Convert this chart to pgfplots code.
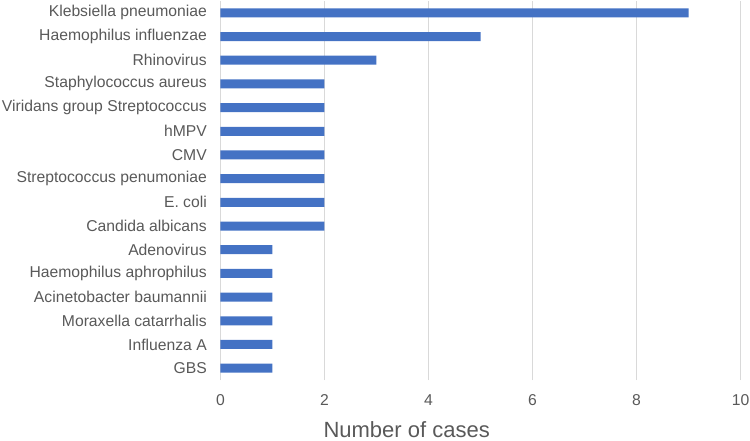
\documentclass[border=0pt]{standalone}
\usepackage{fontspec}
\setmainfont{Liberation Sans}
\usepackage{pgfplots}
\pgfplotsset{compat=1.18}
\definecolor{barblue}{HTML}{4472C4}
\definecolor{txtgray}{HTML}{595959}
\definecolor{gridgray}{HTML}{D9D9D9}
\begin{document}
\begin{tikzpicture}
\begin{axis}[
  scale only axis, width=520bp, height=379bp,
  at={(0,0)}, anchor=south west,
  xbar, bar width=9bp,
  xmin=0, xmax=10, ymin=-0.5, ymax=15.5,
  xtick={0,2,...,10}, ytick={0,...,15},
  yticklabels={GBS, Influenza A, Moraxella catarrhalis, Acinetobacter baumannii, Haemophilus aphrophilus, Adenovirus, Candida albicans, E. coli, Streptococcus penumoniae, CMV, hMPV, Viridans group Streptococcus, Staphylococcus aureus, Rhinovirus, Haemophilus influenzae, Klebsiella pneumoniae},
  axis line style={draw=none}, major tick length=0,
  xmajorgrids, ymajorgrids=false,
  grid style={gridgray, line width=0.9bp},
  ticklabel style={font=\fontsize{15.7bp}{18bp}\selectfont, text=txtgray},
  /pgf/number format/assume math mode=true,
  xticklabel style={anchor=center, yshift=-20bp},
  yticklabel style={anchor=east, inner sep=0pt, xshift=-13.5bp},
  xlabel={Number of cases},
  xlabel style={font=\fontsize{22bp}{24bp}\selectfont, text=txtgray, at={(axis description cs:0.358,0)}, anchor=center, yshift=-50bp},
]
\addplot[fill=barblue, draw=none] coordinates {
(1,0) (1,1) (1,2) (1,3) (1,4) (1,5) (2,6) (2,7) (2,8) (2,9) (2,10) (2,11) (2,12) (3,13) (5,14) (9,15)};
\end{axis}
\pgfresetboundingbox
\path[use as bounding box] (-220.5bp,-61bp) rectangle (529.5bp,380bp);
\end{tikzpicture}
\end{document}
